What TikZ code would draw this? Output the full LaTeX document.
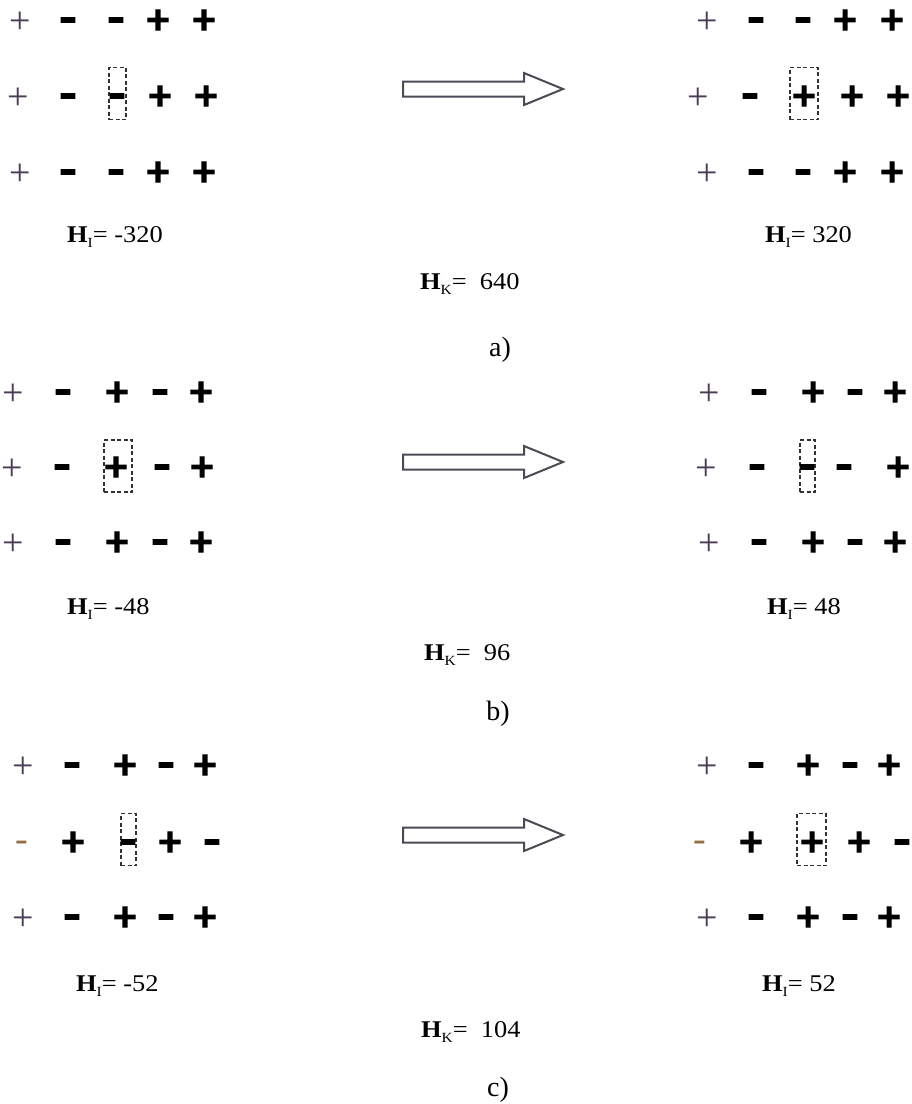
\documentclass[tikz,border=0pt]{standalone}
\usepackage{graphicx}
\usepackage{fontspec}
\setmainfont{Liberation Serif}
\newfontfamily\heavyfont[FakeBold=4]{DejaVu Sans Bold}
\definecolor{thinink}{RGB}{75,60,85}
\definecolor{thinmin}{RGB}{150,110,70}
\definecolor{boxink}{RGB}{50,50,50}
\definecolor{arrowink}{RGB}{75,75,85}

\tikzset{
  sym/.style={inner sep=0pt, outer sep=0pt},
  hp/.style={sym, font=\heavyfont\fontsize{32}{32}\selectfont, node contents={+}},
  hm/.style={sym, yshift=-3.5pt, font=\heavyfont\fontsize{32}{32}\selectfont, node contents={\scalebox{1.35}[1]{-}}},
  tp/.style={sym, yshift=-2.5pt, text=thinink, font=\fontsize{38}{38}\selectfont, node contents={+}},
  tm/.style={sym, yshift=-4pt, text=thinmin, font=\fontsize{38}{38}\selectfont, node contents={-}},
  flip/.style={draw=boxink, dash pattern=on 4pt off 2.5pt, line width=1.6pt,
    inner sep=0pt, outer sep=0pt, minimum height=52pt},
  bigarrow/.style={draw=arrowink, fill=white, line width=2pt, line join=miter},
  hlabel/.style={inner sep=0pt, anchor=base west, font=\fontsize{24}{24}\selectfont},
  caption/.style={inner sep=0pt, anchor=base, font=\fontsize{28}{28}\selectfont},
}
\newcommand\Hsub[1]{\textbf{H}\raisebox{-0.22em}{\fontsize{14}{14}\selectfont #1}}
\newcommand\Hlab[2]{\scalebox{1.1}[1]{\Hsub{#1}#2}}

\begin{document}
\begin{tikzpicture}[x=1pt, y=-1pt]
  \useasboundingbox[fill=white] (0,0) rectangle (912,1104);

  % ---------------- a) ----------------
  \foreach \x/\s [count=\i] in {20/tp, 68/hm, 116/hm, 158/hp, 204/hp}
    \node (aL1\i) at (\x,20) [\s];
  \node[flip, minimum width=17pt] (aLbox) at (117.5,93.5) {};
  \foreach \x/\s [count=\i] in {18/tp, 68/hm, 117/hm, 160/hp, 206/hp}
    \node (aL2\i) at (\x,96) [\s];
  \foreach \x/\s [count=\i] in {20/tp, 68/hm, 116/hm, 158/hp, 204/hp}
    \node (aL3\i) at (\x,172) [\s];

  \foreach \x/\s [count=\i] in {707/tp, 756/hm, 803/hm, 845/hp, 892/hp}
    \node (aR1\i) at (\x,20) [\s];
  \node[flip, minimum width=28pt] (aRbox) at (804,93.5) {};
  \foreach \x/\s [count=\i] in {698/tp, 750/hm, 804/hp, 852/hp, 898/hp}
    \node (aR2\i) at (\x,96) [\s];
  \foreach \x/\s [count=\i] in {707/tp, 756/hm, 803/hm, 845/hp, 892/hp}
    \node (aR3\i) at (\x,172) [\s];

  \node[hlabel] (aHl) at (67,242) {\Hlab{I}{= -320}};
  \node[hlabel] (aHr) at (765,242) {\Hlab{I}{= 320}};
  \node[hlabel] (aHk) at (420,289) {\Hlab{K}{=\ \ 640}};
  \node[caption] (acap) at (500,356) {a)};

  % ---------------- b) ----------------
  \foreach \x/\s [count=\i] in {13/tp, 63/hm, 117/hp, 160/hm, 201/hp}
    \node (bL1\i) at (\x,392) [\s];
  \node[flip, minimum width=28pt] (bLbox) at (118,466) {};
  \foreach \x/\s [count=\i] in {12/tp, 62/hm, 116/hp, 162/hm, 202/hp}
    \node (bL2\i) at (\x,467) [\s];
  \foreach \x/\s [count=\i] in {13/tp, 63/hm, 117/hp, 160/hm, 201/hp}
    \node (bL3\i) at (\x,542) [\s];

  \foreach \x/\s [count=\i] in {709/tp, 759/hm, 813/hp, 855/hm, 895/hp}
    \node (bR1\i) at (\x,392) [\s];
  \node[flip, minimum width=15pt] (bRbox) at (807.5,466) {};
  \foreach \x/\s [count=\i] in {706/tp, 757/hm, 807/hm, 844/hm, 898/hp}
    \node (bR2\i) at (\x,467) [\s];
  \foreach \x/\s [count=\i] in {709/tp, 759/hm, 813/hp, 855/hm, 895/hp}
    \node (bR3\i) at (\x,542) [\s];

  \node[hlabel] (bHl) at (67,614) {\Hlab{I}{= -48}};
  \node[hlabel] (bHr) at (767,614) {\Hlab{I}{= 48}};
  \node[hlabel] (bHk) at (424,660) {\Hlab{K}{=\ \ 96}};
  \node[caption] (bcap) at (498,720) {b)};

  % ---------------- c) ----------------
  \foreach \x/\s [count=\i] in {23/tp, 72/hm, 125/hp, 166/hm, 205/hp}
    \node (cL1\i) at (\x,765) [\s];
  \node[flip, minimum width=15pt] (cLbox) at (128.5,839.5) {};
  \foreach \x/\s [count=\i] in {22/tm, 73/hp, 128/hm, 170/hp, 212/hm}
    \node (cL2\i) at (\x,842) [\s];
  \foreach \x/\s [count=\i] in {23/tp, 72/hm, 125/hp, 166/hm, 205/hp}
    \node (cL3\i) at (\x,917) [\s];

  \foreach \x/\s [count=\i] in {707/tp, 756/hm, 808/hp, 850/hm, 889/hp}
    \node (cR1\i) at (\x,765) [\s];
  \node[flip, minimum width=29pt] (cRbox) at (811.5,839.5) {};
  \foreach \x/\s [count=\i] in {700/tm, 751/hp, 812/hp, 859/hp, 902/hm}
    \node (cR2\i) at (\x,842) [\s];
  \foreach \x/\s [count=\i] in {707/tp, 756/hm, 808/hp, 850/hm, 889/hp}
    \node (cR3\i) at (\x,917) [\s];

  \node[hlabel] (cHl) at (76,991) {\Hlab{I}{= -52}};
  \node[hlabel] (cHr) at (762,991) {\Hlab{I}{= 52}};
  \node[hlabel] (cHk) at (421,1037) {\Hlab{K}{=\ \ 104}};
  \node[caption] (ccap) at (498,1096) {c)};

  % block arrows between the two states
  \foreach \ay in {89,462,835}
    \draw[bigarrow] (403,\ay-7.5) -- (524,\ay-7.5) -- (524,\ay-16) -- (563,\ay)
      -- (524,\ay+16) -- (524,\ay+7.5) -- (403,\ay+7.5) -- cycle;
\end{tikzpicture}
\end{document}
